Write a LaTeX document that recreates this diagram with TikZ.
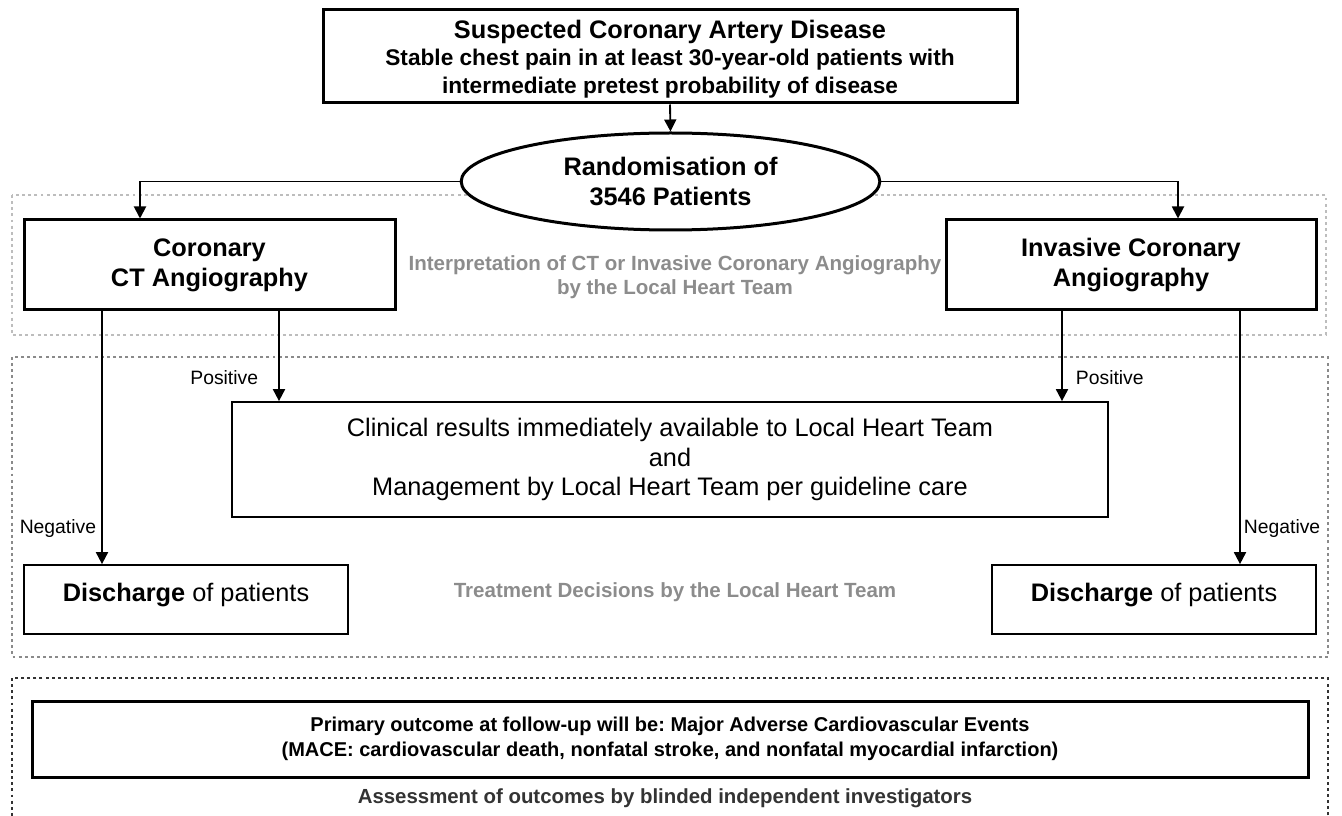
\documentclass[tikz,border=0pt]{standalone}
\usepackage{fontspec}
\setmainfont{Liberation Sans}
\usetikzlibrary{shapes.geometric,arrows.meta}

\definecolor{notegray}{HTML}{8C8C8C}
\definecolor{lightdot}{HTML}{BDBDBD}
\definecolor{middot}{HTML}{8A8A8A}
\definecolor{darkdot}{HTML}{333333}

\tikzset{
    thickbox/.style={draw, line width=2.25pt, align=center, inner sep=0pt},
    thinbox/.style={draw, line width=1.3pt, align=center, inner sep=0pt},
    flow/.style={line width=1.4pt, -{Triangle[length=9pt, width=9pt]}},
    dotframe/.style={line width=2.2pt, dash pattern=on 2.2pt off 2.4pt},
    note/.style={text=notegray, font=\bfseries\fontsize{15.4}{18}\selectfont, align=center},
    lbl/.style={font=\fontsize{14.5}{17}\selectfont, inner sep=1.5pt}
}

\begin{document}
\frenchspacing
\begin{tikzpicture}[x=0.75pt, y=-0.75pt]
        \useasboundingbox (0,0) rectangle (1342,816);
        \clip (0,0) rectangle (1342,816);

        % Dotted frames of the three stages
        \draw[dotframe, lightdot] (12,195) rectangle (1326,335);
        \draw[dotframe, middot] (12,357) rectangle (1328,657);
        \draw[dotframe, darkdot] (12,678) rectangle (1328,840);

        % Inclusion and randomisation
        \node[thickbox, minimum width=520.5pt, minimum height=69.75pt,
              font=\bfseries\fontsize{17}{20.5}\selectfont] (top) at (670,56.5)
            {\rule{0pt}{17.5pt}{\fontsize{19}{20.5}\selectfont Suspected Coronary Artery Disease}\\
             Stable chest pain in at least 30-year-old patients with\\
             intermediate pretest probability of disease};
        \node[ellipse, draw, line width=2.25pt, fill=white, minimum width=314pt, minimum height=72.75pt,
              inner sep=0pt, align=center, font=\bfseries\fontsize{19}{22}\selectfont] (rand) at (670.5,181.5)
            {Randomisation of\\3546 Patients};

        % The two arms
        \node[thickbox, minimum width=278.25pt, minimum height=67.5pt, font=\bfseries\fontsize{19}{22.5}\selectfont]
            (ct) at (209.5,265) {Coronary\\CT Angiography};
        \node[thickbox, minimum width=277.5pt, minimum height=67.5pt, font=\bfseries\fontsize{19}{22.5}\selectfont]
            (ica) at (1131,265) {Invasive Coronary\\Angiography};
        \node[note] (interp) at (675,277)
            {Interpretation of CT or Invasive Coronary Angiography\\by the Local Heart Team};

        % Results and discharge
        \node[thinbox, minimum width=657pt, minimum height=86.25pt, font=\fontsize{19}{22}\selectfont]
            (clin) at (670,459.5)
            {Clinical results immediately available to Local Heart Team\\and\\Management by Local Heart Team per guideline care};
        \node[thinbox, minimum width=243pt, minimum height=51.75pt, text height=14pt, text depth=11.5pt,
              font=\fontsize{19}{22}\selectfont] (disL) at (186,599.5) {\textbf{Discharge} of patients};
        \node[thinbox, minimum width=243pt, minimum height=51.75pt, text height=14pt, text depth=11.5pt,
              font=\fontsize{19}{22}\selectfont] (disR) at (1154,599.5) {\textbf{Discharge} of patients};
        \node[note] (treat) at (675,592) {Treatment Decisions by the Local Heart Team};

        % Outcome assessment
        \node[thickbox, minimum width=957pt, minimum height=57pt, font=\bfseries\fontsize{15}{19}\selectfont]
            (mace) at (670,739)
            {Primary outcome at follow-up will be: Major Adverse Cardiovascular Events\\
             (MACE: cardiovascular death, nonfatal stroke, and nonfatal myocardial infarction)};
        \node[font=\bfseries\fontsize{15.3}{18}\selectfont, text=darkdot] (assess) at (665,798)
            {Assessment of outcomes by blinded independent investigators};

        % Columns of the connectors
        \coordinate (ctin) at (140,0);
        \coordinate (icain) at (1178,0);
        \coordinate (negL) at (102,0);
        \coordinate (posL) at (279,0);
        \coordinate (posR) at (1062,0);
        \coordinate (negR) at (1240,0);

        \draw[flow] (top.south) -- (rand.north);
        \draw[flow] (rand.west) -| (ct.north -| ctin);
        \draw[flow] (rand.east) -| (ica.north -| icain);

        \draw[flow] (ct.south -| negL) -- node[lbl, pos=0.86, left=2.25pt] (negLtxt) {Negative} (disL.north -| negL);
        \draw[flow] (ct.south -| posL) -- node[lbl, pos=0.74, left=13.5pt] (posLtxt) {Positive} (clin.north -| posL);
        \draw[flow] (ica.south -| posR) -- node[lbl, pos=0.74, right=8.25pt] (posRtxt) {Positive} (clin.north -| posR);
        \draw[flow] (ica.south -| negR) -- node[lbl, pos=0.86, right=0.75pt] (negRtxt) {Negative} (disR.north -| negR);
\end{tikzpicture}
\end{document}
